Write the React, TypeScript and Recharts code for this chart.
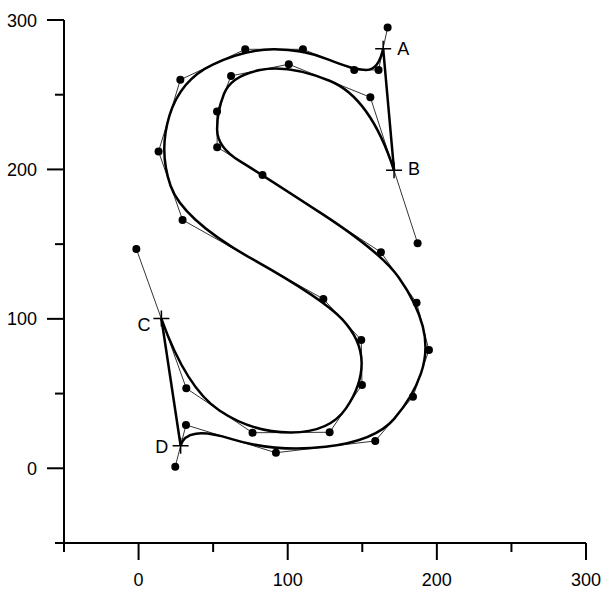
import { ComposedChart, Line, Scatter, XAxis, YAxis } from 'recharts';

// control points of the stroke running from A over the top, down the spine, round to C
const strokeAC = [
  { x: 167, y: 295 },
  { x: 160.9, y: 266.6 },
  { x: 144.6, y: 266.6 },
  { x: 110.2, y: 280.4 },
  { x: 71.5, y: 280.4 },
  { x: 28, y: 260 },
  { x: 13.4, y: 212 },
  { x: 29.5, y: 166.2 },
  { x: 123.9, y: 113.3 },
  { x: 149.3, y: 85.9 },
  { x: 149.8, y: 55.8 },
  { x: 128.1, y: 24.1 },
  { x: 76.4, y: 23.8 },
  { x: 32, y: 53.5 },
  { x: -1.5, y: 146.8 },
];

// control points of the stroke running from B round the inner top, down the spine, round to D
const strokeBD = [
  { x: 187.1, y: 150.6 },
  { x: 155.4, y: 248.3 },
  { x: 100.7, y: 270.4 },
  { x: 62, y: 262.6 },
  { x: 52.6, y: 238.7 },
  { x: 52.7, y: 214.9 },
  { x: 83.1, y: 196.3 },
  { x: 162.5, y: 144.6 },
  { x: 186.4, y: 110.8 },
  { x: 194.7, y: 79.2 },
  { x: 184, y: 47.9 },
  { x: 158.7, y: 18.3 },
  { x: 92.1, y: 10.4 },
  { x: 31.8, y: 29 },
  { x: 24.6, y: 1.1 },
];

const anchors = [
  { x: 164, y: 280.8, label: 'A' },
  { x: 171.3, y: 199.5, label: 'B' },
  { x: 15.3, y: 100.2, label: 'C' },
  { x: 28.2, y: 15.1, label: 'D' },
];

const xTicks = [-50, 0, 50, 100, 150, 200, 250, 300];
const yTicks = [-50, 0, 50, 100, 150, 200, 250, 300];

const edgeAB = [anchors[0], anchors[1]];
const edgeCD = [anchors[2], anchors[3]];
const controlDots = [...strokeAC, ...strokeBD];

const FONT = 'Liberation Sans, Arial, Helvetica, sans-serif';
const MAJOR = 17;
const MINOR = 9;

// label offsets from the cross centre, in px
const labelOffset: Record<string, [number, number, 'start' | 'end']> = {
  A: [14, 6, 'start'],
  B: [14, 4.5, 'start'],
  C: [-11, 12, 'end'],
  D: [-12.5, 7.5, 'end'],
};

// quadratic B-spline: runs from the midpoint of the first control edge to the midpoint of the last
function quadSpline(context: any) {
  let pts: number[][] = [];
  return {
    areaStart() {},
    areaEnd() {},
    lineStart() {
      pts = [];
    },
    point(x: number, y: number) {
      pts.push([+x, +y]);
    },
    lineEnd() {
      if (pts.length < 3) {
        pts.forEach(([x, y], i) => (i ? context.lineTo(x, y) : context.moveTo(x, y)));
        return;
      }
      const mid = (a: number[], b: number[]) => [(a[0] + b[0]) / 2, (a[1] + b[1]) / 2];
      const start = mid(pts[0], pts[1]);
      context.moveTo(start[0], start[1]);
      for (let i = 1; i < pts.length - 1; i++) {
        const end = mid(pts[i], pts[i + 1]);
        context.quadraticCurveTo(pts[i][0], pts[i][1], end[0], end[1]);
      }
    },
  };
}

function YTick(props: any) {
  const { x, y, payload } = props;
  const v = payload.value;
  const major = v % 100 === 0;
  const axisX = x + 10 + MAJOR;
  return (
    <g>
      <line x1={axisX - (major ? MAJOR : MINOR)} x2={axisX} y1={y} y2={y} stroke="#000" strokeWidth={2} />
      {major && (
        <text x={x} y={y + 6.5} textAnchor="end" fontSize={18} fontFamily={FONT} fill="#000">
          {v}
        </text>
      )}
    </g>
  );
}

function XTick(props: any) {
  const { x, y, payload } = props;
  const v = payload.value;
  const major = v % 100 === 0;
  const axisY = y - 13 - MAJOR;
  return (
    <g>
      <line x1={x} x2={x} y1={axisY} y2={axisY + (major ? MAJOR : MINOR)} stroke="#000" strokeWidth={2} />
      {major && (
        <text x={x} y={y + 13} textAnchor="middle" fontSize={18} fontFamily={FONT} fill="#000">
          {v}
        </text>
      )}
    </g>
  );
}

function CrossMark(props: any) {
  const { cx, cy, payload } = props;
  const [dx, dy, anchor] = labelOffset[payload.label];
  return (
    <g>
      <path d={`M${cx - 8},${cy}H${cx + 8}M${cx},${cy - 8}V${cy + 8}`} stroke="#000" strokeWidth={1.5} fill="none" />
      <text x={cx + dx} y={cy + dy} textAnchor={anchor} fontSize={18} fontFamily={FONT} fill="#000">
        {payload.label}
      </text>
    </g>
  );
}

export default function App() {
  return (
    <div style={{ position: 'absolute', left: 0, top: 0, background: '#fff' }}>
      <ComposedChart width={602} height={590} margin={{ top: 20, right: 16, bottom: 0, left: 0 }}>
        <XAxis
          type="number"
          dataKey="x"
          domain={[-50, 300]}
          ticks={xTicks}
          interval={0}
          allowDataOverflow
          height={47}
          tickSize={MAJOR}
          tickMargin={13}
          tickLine={false}
          axisLine={{ stroke: '#000', strokeWidth: 2 }}
          tick={(p: any) => <XTick {...p} />}
        />
        <YAxis
          type="number"
          dataKey="y"
          domain={[-50, 300]}
          ticks={yTicks}
          interval={0}
          allowDataOverflow
          width={64}
          tickSize={MAJOR}
          tickMargin={10}
          tickLine={false}
          axisLine={{ stroke: '#000', strokeWidth: 2 }}
          tick={(p: any) => <YTick {...p} />}
        />
        <Line data={strokeAC} dataKey="y" type="linear" stroke="#000" strokeWidth={0.8} dot={false} activeDot={false} isAnimationActive={false} />
        <Line data={strokeBD} dataKey="y" type="linear" stroke="#000" strokeWidth={0.8} dot={false} activeDot={false} isAnimationActive={false} />
        <Line data={strokeAC} dataKey="y" type={quadSpline as any} stroke="#000" strokeWidth={2.5} dot={false} activeDot={false} isAnimationActive={false} />
        <Line data={strokeBD} dataKey="y" type={quadSpline as any} stroke="#000" strokeWidth={2.5} dot={false} activeDot={false} isAnimationActive={false} />
        <Line data={edgeAB} dataKey="y" type="linear" stroke="#000" strokeWidth={2.5} dot={false} activeDot={false} isAnimationActive={false} />
        <Line data={edgeCD} dataKey="y" type="linear" stroke="#000" strokeWidth={2.5} dot={false} activeDot={false} isAnimationActive={false} />
        <Scatter
          data={controlDots}
          isAnimationActive={false}
          shape={(p: any) => <circle cx={p.cx} cy={p.cy} r={4} fill="#000" />}
        />
        <Scatter data={anchors} isAnimationActive={false} shape={(p: any) => <CrossMark {...p} />} />
      </ComposedChart>
    </div>
  );
}
